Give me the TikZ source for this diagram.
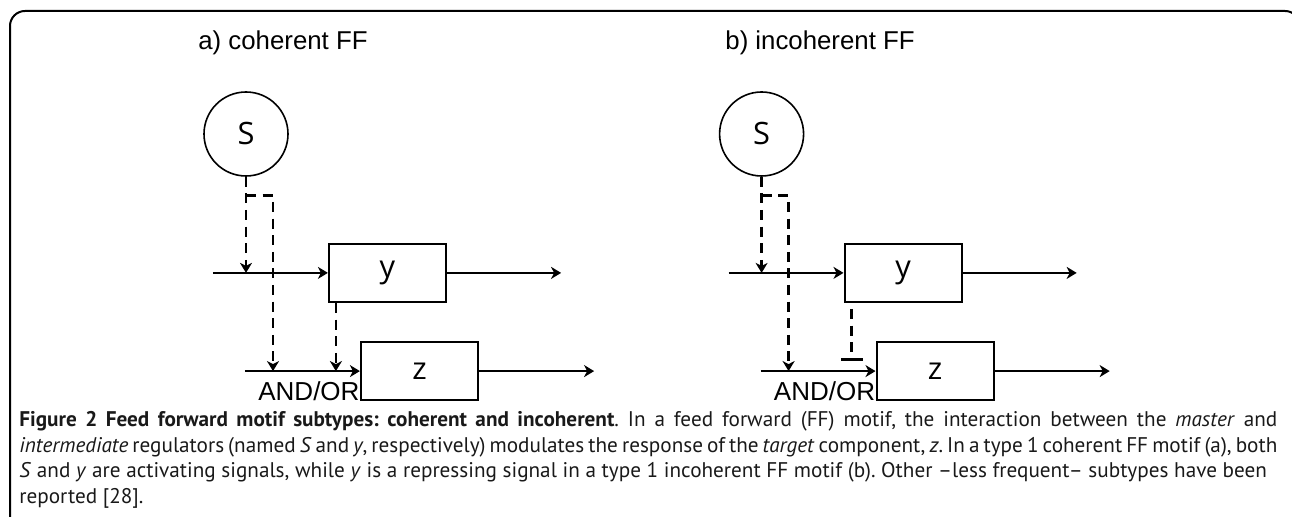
\documentclass[tikz,border=0pt]{standalone}
\usepackage{fontspec}
\setmainfont{Liberation Sans}
\newfontfamily\capfont{PT Sans}
\newfontfamily\labfont{Open Sans}
\usetikzlibrary{positioning,arrows.meta}

\begin{document}
\begin{tikzpicture}[x=0.5pt, y=-0.5pt,
  signalnode/.style={draw, circle, line width=0.8pt, minimum size=42pt, inner sep=0, font=\labfont\fontsize{15.4}{18}\selectfont},
  genebox/.style={draw, rectangle, line width=1.1pt, minimum width=58.5pt, minimum height=29pt, inner sep=0, font=\labfont\fontsize{15.4}{18}\selectfont},
  flowline/.style={line width=1.2pt, -{Stealth[length=5pt, width=6pt, inset=1.5pt]}},
  regline/.style={flowline, line width=1.3pt, dash pattern=on 5pt off 3.3pt},
  repline/.style={line width=1.3pt, dash pattern=on 5pt off 3.3pt, -{Bar[width=11pt]}},
  paneltitle/.style={anchor=base west, inner sep=0, font=\fontsize{12.9}{15}\selectfont},
  gatelabel/.style={inner sep=0, font=\fontsize{13}{15}\selectfont}]
  \useasboundingbox (0,0) rectangle (1292,517);
  \clip (0,0) rectangle (1292,517);
  \draw[line width=1pt, rounded corners=7.5pt] (10,11) rectangle (1300,545);

  % a) coherent
  \node[paneltitle] (ta) at (198,50) {a) coherent FF};
  \node[signalnode] (Sa) at (246,134) {S};
  \node[genebox, below=33pt of Sa, xshift=70.75pt] (ya) {y};
  \node[genebox, below=19pt of ya, xshift=16pt] (za) {z};
  \coordinate[left=57.5pt of ya.west] (ina);
  \coordinate[right=57pt of ya.east] (outa);
  \coordinate[left=57.5pt of za.west] (zina);
  \coordinate[right=57.5pt of za.east] (zouta);
  \coordinate[below=9.5pt of Sa] (bra);
  \coordinate[right=13.5pt of bra] (brb);
  \coordinate[right=4pt of ya.south west] (yba);
  \node[gatelabel, below left=5pt and 0pt of za.west] (ga) {AND/OR};

  \draw[flowline] (ina) -- (ya);
  \draw[flowline] (ya) -- (outa);
  \draw[flowline] (zina) -- (za);
  \draw[flowline] (za) -- (zouta);
  \draw[regline] (Sa) -- (Sa |- ina);
  \draw[regline] (bra) -- (brb) -- (brb |- zina);
  \draw[regline] (yba) -- (yba |- zina);

  % b) incoherent
  \node[paneltitle] (tb) at (725,50) {b) incoherent FF};
  \node[signalnode, right=215pt of Sa] (Sb) {S};
  \node[genebox, below=33pt of Sb, xshift=70.75pt] (yb) {y};
  \node[genebox, below=19pt of yb, xshift=16pt] (zb) {z};
  \coordinate[left=57.5pt of yb.west] (inb);
  \coordinate[right=57pt of yb.east] (outb);
  \coordinate[left=57.5pt of zb.west] (zinb);
  \coordinate[right=57.5pt of zb.east] (zoutb);
  \coordinate[below=9.5pt of Sb] (brc);
  \coordinate[right=13.5pt of brc] (brd);
  \coordinate[right=4pt of yb.south west] (ybb);
  \node[gatelabel, below left=5pt and 0pt of zb.west] (gb) {AND/OR};

  \draw[flowline] (inb) -- (yb);
  \draw[flowline] (yb) -- (outb);
  \draw[flowline] (zinb) -- (zb);
  \draw[flowline] (zb) -- (zoutb);
  \draw[regline] (Sb) -- (Sb |- inb);
  \draw[regline] (brc) -- (brd) -- (brd |- zinb);
  \draw[repline, shorten <=3pt, shorten >=5pt] (ybb) -- (ybb |- zinb);

  \node[anchor=north west, inner sep=0, text width=629pt, align=justify,
    font=\capfont\fontsize{10.6}{12.75}\selectfont\frenchspacing, text=black!90] (cap) at (19,411)
    {\textbf{Figure 2 Feed forward motif subtypes: coherent and incoherent}. In a feed forward (FF) motif, the interaction between the \textit{master} and\linebreak
     \textit{intermediate} regulators (named \textit{S} and \textit{y}, respectively) modulates the response of the \textit{target} component, \textit{z}. In a type 1 coherent FF motif (a), both\linebreak
     \textit{S} and \textit{y} are activating signals, while \textit{y} is a repressing signal in a type 1 incoherent FF motif (b). Other –less frequent– subtypes have been\newline
     reported [28].};
\end{tikzpicture}
\end{document}
